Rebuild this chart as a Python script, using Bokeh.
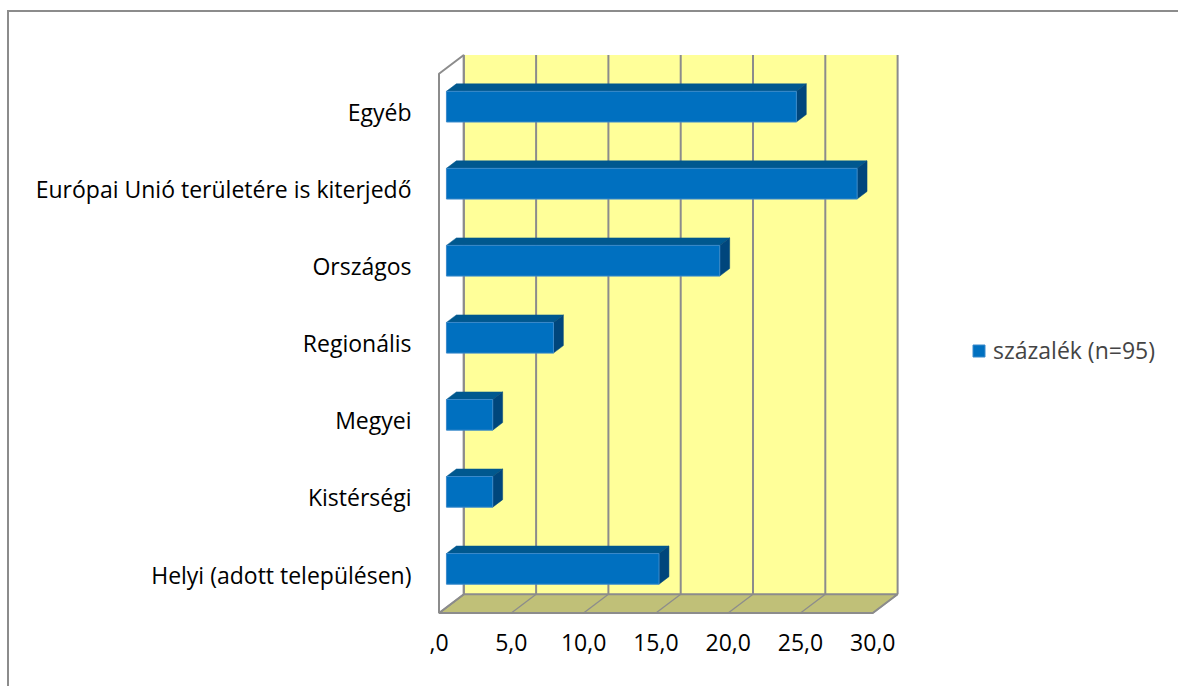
from bokeh.plotting import figure
from bokeh.models import FixedTicker, Range1d, Legend, LegendItem
from bokeh.embed import file_html
from bokeh.resources import INLINE

# ---- data -------------------------------------------------------------
categories = [
    "Helyi (adott településen)",
    "Kistérségi",
    "Megyei",
    "Regionális",
    "Országos",
    "Európai Unió területére is kiterjedő",
    "Egyéb",
]
percent = [14.7, 3.2, 3.2, 7.4, 18.9, 28.4, 24.2]
x_ticks = [0, 5, 10, 15, 20, 25, 30]
x_tick_labels = [",0", "5,0", "10,0", "15,0", "20,0", "25,0", "30,0"]
series_name = "százalék (n=95)"

# ---- pseudo-3D projection ----------------------------------------------
# depth d runs from 0 (front edge) to 1 (back wall); going back shifts
# points right (in value units) and up (in category units)
DEPTH_X = 1.715
DEPTH_Y = 0.244
X_MAX = x_ticks[-1]
Y_LO, Y_HI = -0.5, len(categories) - 0.5
BAR_D0, BAR_D1 = 0.3, 0.7
BAR_HALF = 0.199


def px(v, d):
    return v + DEPTH_X * d


def py(y, d):
    return y + DEPTH_Y * d


FONT = "Open Sans"
FONT_SIZE = "23px"
GRID = "#8c8c8c"

p = figure(
    width=1169, height=674,
    x_range=Range1d(-0.588, 51.14), y_range=Range1d(-0.662, 7.062),
    output_backend="svg", toolbar_location=None,
    min_border_left=421, min_border_right=0,
    min_border_top=18, min_border_bottom=61,
    margin=(12, 0, 0, 9),
    styles={"outline": "2px solid #8c8c8c"},
)
p.outline_line_color = None
p.xgrid.visible = False
p.ygrid.visible = False
p.background_fill_color = "white"
p.border_fill_color = "white"

# back wall
p.patch(
    [px(0, 1), px(X_MAX, 1), px(X_MAX, 1), px(0, 1)],
    [py(Y_LO, 1), py(Y_LO, 1), py(Y_HI, 1), py(Y_HI, 1)],
    fill_color="#FFFF99", line_color=None,
)
# floor
p.patch(
    [px(0, 0), px(X_MAX, 0), px(X_MAX, 1), px(0, 1)],
    [py(Y_LO, 0), py(Y_LO, 0), py(Y_LO, 1), py(Y_LO, 1)],
    fill_color="#C0C078", line_color=GRID, line_width=2,
)
# side wall
p.patch(
    [px(0, 0), px(0, 0), px(0, 1), px(0, 1)],
    [py(Y_LO, 0), py(Y_HI, 0), py(Y_HI, 1), py(Y_LO, 1)],
    fill_color="white", line_color=GRID, line_width=2,
)
# gridlines on the back wall and across the floor
p.segment(
    x0=[px(t, 1) for t in x_ticks], y0=py(Y_LO, 1),
    x1=[px(t, 1) for t in x_ticks], y1=py(Y_HI, 1),
    line_color=GRID, line_width=2,
)
p.segment(
    x0=[px(t, 0) for t in x_ticks], y0=py(Y_LO, 0),
    x1=[px(t, 1) for t in x_ticks], y1=py(Y_LO, 1),
    line_color=GRID, line_width=1.3,
)

# bars: top face, end face, front face
ks = list(range(len(categories)))
top_xs, top_ys, end_xs, end_ys = [], [], [], []
for k, v in zip(ks, percent):
    top = k + BAR_HALF
    bot = k - BAR_HALF
    top_xs.append([px(0, BAR_D0), px(v, BAR_D0), px(v, BAR_D1), px(0, BAR_D1)])
    top_ys.append([py(top, BAR_D0), py(top, BAR_D0), py(top, BAR_D1), py(top, BAR_D1)])
    end_xs.append([px(v, BAR_D0), px(v, BAR_D0), px(v, BAR_D1), px(v, BAR_D1)])
    end_ys.append([py(bot, BAR_D0), py(top, BAR_D0), py(top, BAR_D1), py(bot, BAR_D1)])

p.patches(top_xs, top_ys, fill_color="#00588F", line_color="#00588F", line_width=0.5)
p.patches(end_xs, end_ys, fill_color="#00467C", line_color="#00467C", line_width=0.5)
front = p.quad(
    left=[px(0, BAR_D0)] * len(ks),
    right=[px(v, BAR_D0) for v in percent],
    bottom=[py(k - BAR_HALF, BAR_D0) for k in ks],
    top=[py(k + BAR_HALF, BAR_D0) for k in ks],
    fill_color="#0070C0", line_color="#3A8ACB", line_width=1,
)

# axes
p.xaxis.ticker = FixedTicker(ticks=x_ticks)
p.xaxis.major_label_overrides = {t: s for t, s in zip(x_ticks, x_tick_labels)}
p.yaxis.ticker = FixedTicker(ticks=ks)
p.yaxis.major_label_overrides = {k: c for k, c in zip(ks, categories)}
for ax in (p.xaxis, p.yaxis):
    ax.axis_line_color = None
    ax.major_tick_line_color = None
    ax.minor_tick_line_color = None
    ax.major_tick_in = 0
    ax.major_tick_out = 0
    ax.major_label_text_font = FONT
    ax.major_label_text_font_size = FONT_SIZE
    ax.major_label_text_color = "black"
p.xaxis.major_label_standoff = 8
p.yaxis.major_label_standoff = 19

legend = Legend(
    items=[LegendItem(label=series_name, renderers=[front])],
    location=(541, 259),
    label_text_font=FONT, label_text_font_size=FONT_SIZE,
    glyph_width=15, glyph_height=15, label_standoff=7,
    padding=0, margin=0, spacing=0,
    border_line_color=None, background_fill_alpha=0,
)
p.add_layout(legend)

open("out.html", "w").write(file_html(p, INLINE))
